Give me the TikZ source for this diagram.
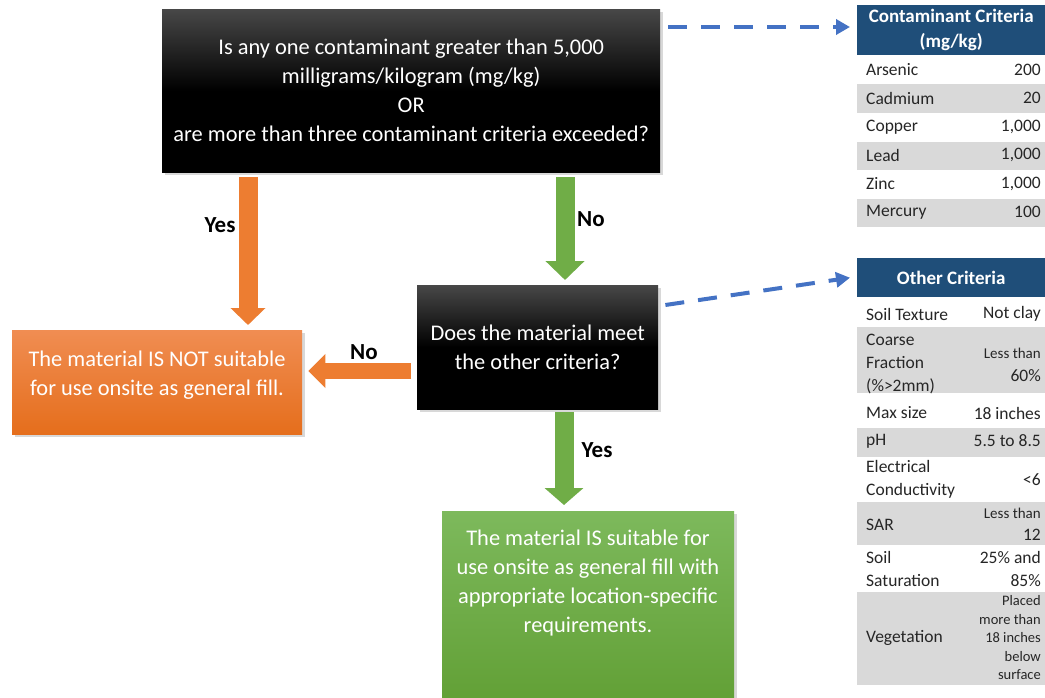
\documentclass[tikz,border=0pt]{standalone}
\usepackage{fontspec}
\setmainfont{Carlito}
\usetikzlibrary{arrows.meta,calc,shadows}
\definecolor{orng}{HTML}{ED7D31}
\definecolor{orngtop}{HTML}{F08D52}
\definecolor{orngbot}{HTML}{E56E1C}
\definecolor{grn}{HTML}{70AD47}
\definecolor{grntop}{HTML}{7DB95C}
\definecolor{grnbot}{HTML}{62A036}
\definecolor{navy}{HTML}{1F4E79}
\definecolor{dashblue}{HTML}{4472C4}
\definecolor{cellgray}{HTML}{D9D9D9}
\definecolor{celltext}{HTML}{262626}
\begin{document}
\begin{tikzpicture}[x=1pt,y=-1pt,
  qbox/.style={anchor=north west, inner sep=0pt, draw=none, top color=black!72, bottom color=black, middle color=black,
    drop shadow={shadow xshift=2.5pt,shadow yshift=-2.5pt,opacity=0.3},
    text=white, align=center, font=\fontsize{22.4}{29}\selectfont},
  obox/.style={anchor=north west, inner sep=0pt, draw=none, top color=orngtop, bottom color=orngbot,
    drop shadow={shadow xshift=2.5pt,shadow yshift=-2.5pt,opacity=0.3}},
  gbox/.style={anchor=north west, inner sep=0pt, draw=none, top color=grntop, bottom color=grnbot,
    drop shadow={shadow xshift=2.5pt,shadow yshift=-2.5pt,opacity=0.3}},
  boxtext/.style={text=white, align=center, font=\fontsize{22.4}{29}\selectfont, inner sep=0pt},
  lbl/.style={font=\bfseries\fontsize{23}{26}\selectfont, text=black, inner sep=0pt},
  oarrow/.style={draw=orng, line width=19pt, -{Triangle[width=34pt,length=17pt]}},
  garrow/.style={draw=grn, line width=19pt, -{Triangle[width=38pt,length=19pt]}},
  dasharrow/.style={draw=dashblue, line width=4pt, dash pattern=on 19pt off 14pt, -{Triangle[width=15pt,length=14pt]}},
  hdr/.style={anchor=north west, fill=navy, inner sep=0pt, minimum width=188pt},
  hdrtext/.style={text=white, font=\bfseries\fontsize{19}{25}\selectfont, align=center, inner sep=0pt},
  grayrow/.style={anchor=north west, fill=cellgray, inner sep=0pt, minimum width=188pt},
  ltxt/.style={anchor=west, text=celltext, font=\fontsize{17.5}{23}\selectfont, align=left, inner sep=0pt},
  rtxt/.style={anchor=east, text=celltext, font=\fontsize{17.5}{23}\selectfont, align=right, inner sep=0pt},
  rsmall/.style={anchor=east, text=celltext, font=\fontsize{14.5}{18.5}\selectfont, align=right, inner sep=0pt}
]
\useasboundingbox (0,0) rectangle (1045,698);
\fill[white] (0,0) rectangle (1045,698);
\coordinate (y27) at (0,27);

% main boxes
\node[qbox, minimum width=498pt, minimum height=163pt] (b1) at (162,9)
  {Is any one contaminant greater than 5,000\\milligrams/kilogram (mg/kg)\\OR\\are more than three contaminant criteria exceeded?};
\node[qbox, minimum width=241pt, minimum height=124pt] (b2) at (417,285)
  {Does the material meet\\the other criteria?};
\node[obox, minimum width=290pt, minimum height=104pt] (ob) at (12,330) {};
\node[boxtext] (obt) at (157,375) {The material IS NOT suitable\\for use onsite as general fill.};
\node[gbox, minimum width=292pt, minimum height=190pt] (gb) at (442,511) {};
\node[boxtext] (gbt) at (588,583) {The material IS suitable for\\use onsite as general fill with\\appropriate location-specific\\requirements.};

% block arrows
\draw[oarrow] ([xshift=86pt,yshift=-5pt]b1.south west) -- ([xshift=236pt,yshift=5pt]ob.north west);
\draw[garrow] ([xshift=403pt,yshift=-5pt]b1.south west) -- ([xshift=148pt,yshift=5pt]b2.north west);
\draw[oarrow, line width=16pt, -{Triangle[width=33pt,length=17pt]}] ([xshift=-6pt,yshift=-86pt]b2.north west) -- ([xshift=6pt,yshift=-41pt]ob.north east);
\draw[garrow, -{Triangle[width=38pt,length=17pt]}] ([xshift=147pt,yshift=-3pt]b2.south west) -- ([xshift=122pt,yshift=6pt]gb.north west);

% arrow labels
\node[lbl] (yes1) at (220,225) {Yes};
\node[lbl] (no1) at (591,219) {No};
\node[lbl] (no2) at (364,352) {No};
\node[lbl] (yes2) at (597,450) {Yes};

% table 1
\node[hdr, minimum height=50pt] (h1) at (857,5) {};
\node[hdrtext] (h1t) at (h1.center) {Contaminant Criteria\\(mg/kg)};
\node[grayrow, minimum height=29pt] (g12) at (857,83.5) {};
\node[grayrow, minimum height=28pt] (g14) at (857,142) {};
\node[grayrow, minimum height=28pt] (g16) at (857,199) {};
\node[ltxt] (a1) at (866,70) {Arsenic};   \node[rtxt] (v1) at (1041,70) {200};
\node[ltxt] (a2) at (866,98) {Cadmium};   \node[rtxt] (v2) at (1041,98) {20};
\node[ltxt] (a3) at (866,127) {Copper};   \node[rtxt] (v3) at (1041,127) {1,000};
\node[ltxt] (a4) at (866,155) {Lead};     \node[rtxt] (v4) at (1041,155) {1,000};
\node[ltxt] (a5) at (866,184) {Zinc};     \node[rtxt] (v5) at (1041,184) {1,000};
\node[ltxt] (a6) at (866,212) {Mercury};  \node[rtxt] (v6) at (1041,212) {100};

% table 2
\node[hdr, minimum height=39pt] (h2) at (857,258) {};
\node[hdrtext] (h2t) at (h2.center) {Other Criteria};
\node[grayrow, minimum height=66pt] (g22) at (857,327) {};
\node[grayrow, minimum height=29pt] (g24) at (857,428) {};
\node[grayrow, minimum height=43pt] (g26) at (857,502) {};
\node[grayrow, minimum height=93pt] (g28) at (857,592) {};
\node[ltxt] (c1) at (866,314) {Soil Texture};  \node[rtxt] (w1) at (1041,314) {Not clay};
\node[ltxt] (c2) at (866,364) {Coarse\\Fraction\\(\%>2mm)}; \node[rsmall, font=\fontsize{15}{23}\selectfont] (w2) at (1041,365) {Less than\\\fontsize{17.5}{23}\selectfont 60\%};
\node[ltxt] (c3) at (866,413) {Max size};      \node[rtxt] (w3) at (1041,413) {18 inches};
\node[ltxt] (c4) at (866,441) {pH};            \node[rtxt] (w4) at (1041,441) {5.5 to 8.5};
\node[ltxt] (c5) at (866,479) {Electrical\\Conductivity}; \node[rtxt] (w5) at (1041,480) {<6};
\node[ltxt] (c6) at (866,525) {SAR};           \node[rsmall, font=\fontsize{15}{22}\selectfont] (w6) at (1041,524) {Less than\\\fontsize{17.5}{22}\selectfont 12};
\node[ltxt] (c7) at (866,569) {Soil\\Saturation}; \node[rtxt] (w7) at (1041,569) {25\% and\\85\%};
\node[ltxt] (c8) at (866,638) {Vegetation};    \node[rsmall] (w8) at (1041,638) {Placed\\more than\\18 inches\\below\\surface};

% dashed connectors
\draw[dasharrow] ([xshift=8pt]b1.east |- y27) -- ([xshift=-7pt]h1.west |- y27);
\draw[dasharrow] ([xshift=7pt,yshift=-20pt]b2.north east) -- ([xshift=-7pt]h2.west);
\end{tikzpicture}
\end{document}
